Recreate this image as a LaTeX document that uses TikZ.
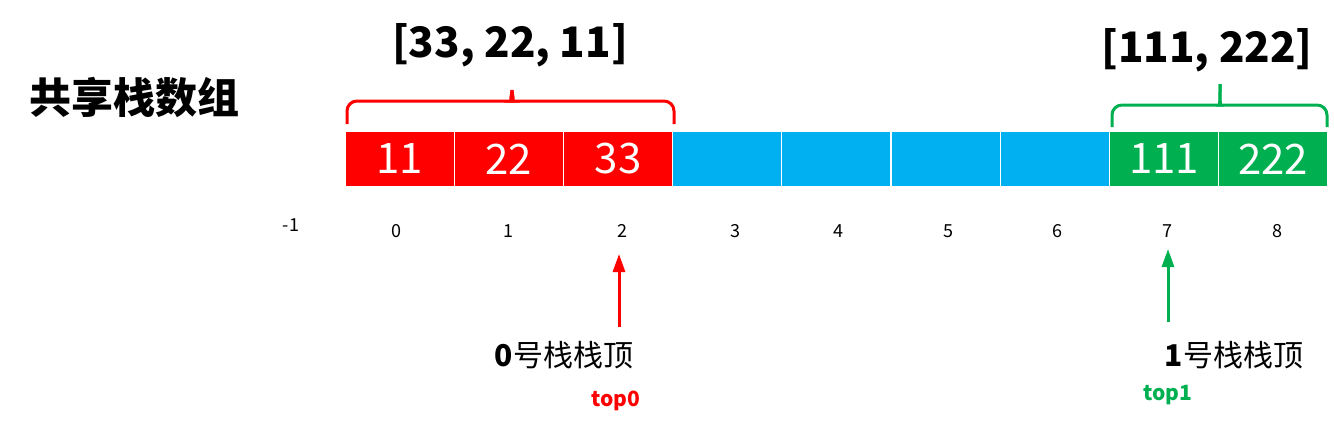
\documentclass[tikz,border=0pt]{standalone}
\usepackage{fontspec}
\setmainfont{Noto Sans CJK SC}
\usetikzlibrary{arrows.meta}
\definecolor{stackred}{HTML}{FF0000}
\definecolor{stackblue}{HTML}{00B0F0}
\definecolor{stackgreen}{HTML}{00B050}

\begin{document}
\begin{tikzpicture}[x=0.5pt,y=-0.5pt,
    cell/.style={draw=white,line width=0.6pt,minimum width=54.6pt,minimum height=28pt,
      inner sep=0pt,text=white,font=\fontsize{21}{21}\selectfont},
    idx/.style={inner sep=0pt,font=\fontsize{9}{9}\selectfont},
    group/.style={inner sep=0pt,font=\bfseries\fontsize{21}{21}\selectfont},
    toplabel/.style={inner sep=0pt,font=\fontsize{15}{15}\selectfont},
    topname/.style={inner sep=0pt,font=\bfseries\fontsize{10.5}{10.5}\selectfont},
    brace/.style={line width=1.5pt,rounded corners=5pt},
    ptr/.style={line width=1.5pt,-{Triangle[width=6pt,length=9pt]}}]
        \useasboundingbox (0,0) rectangle (1334,430);
        \node[anchor=west,inner sep=0pt,font=\bfseries\fontsize{21}{21}\selectfont] (title) at (29,97) {共享栈数组};
        \foreach \i/\v/\c in {0/11/stackred,1/22/stackred,2/33/stackred,3//stackblue,4//stackblue,
            5//stackblue,6//stackblue,7/111/stackgreen,8/222/stackgreen}
          \node[cell,fill=\c] (c\i) at ({399.6+109.2*\i},159) {\v};
        \node[idx] (im1) at (291,225) {-1};
        \foreach \i/\x in {0/396,1/508,2/622,3/735,4/838,5/948,6/1057,7/1167,8/1277}
          \node[idx] (i\i) at (\x,231) {\i};
        % braces over the two stacks
        \draw[brace,stackred] (347,124) |- (503,101) to[out=0,in=-90] (512,90);
        \draw[brace,stackred] (512,90) to[out=-90,in=180] (521,101) -| (674,124);
        \draw[brace,stackgreen] (1112,127) |- (1211,105) to[out=0,in=-90] (1220,84);
        \draw[brace,stackgreen] (1220,84) to[out=-90,in=180] (1229,105) -| (1327,127);
        \node[group] (g0) at (510,45) {[33, 22, 11]};
        \node[group] (g1) at (1207,50) {[111, 222]};
        % stack tops
        \node[toplabel] (t0) at (564,355) {\textbf{0}号栈栈顶};
        \node[toplabel] (t1) at (1234,355) {\textbf{1}号栈栈顶};
        \node[topname,text=stackred] (n0) at (616,401) {top0};
        \node[topname,text=stackgreen] (n1) at (1168,395) {top1};
        \coordinate (p0) at (619,327);
        \coordinate (q0) at (619,254);
        \coordinate (p1) at (1168,322);
        \coordinate (q1) at (1168,249);
        \draw[ptr,stackred] (p0) -- (q0);
        \draw[ptr,stackgreen] (p1) -- (q1);
\end{tikzpicture}
\end{document}
